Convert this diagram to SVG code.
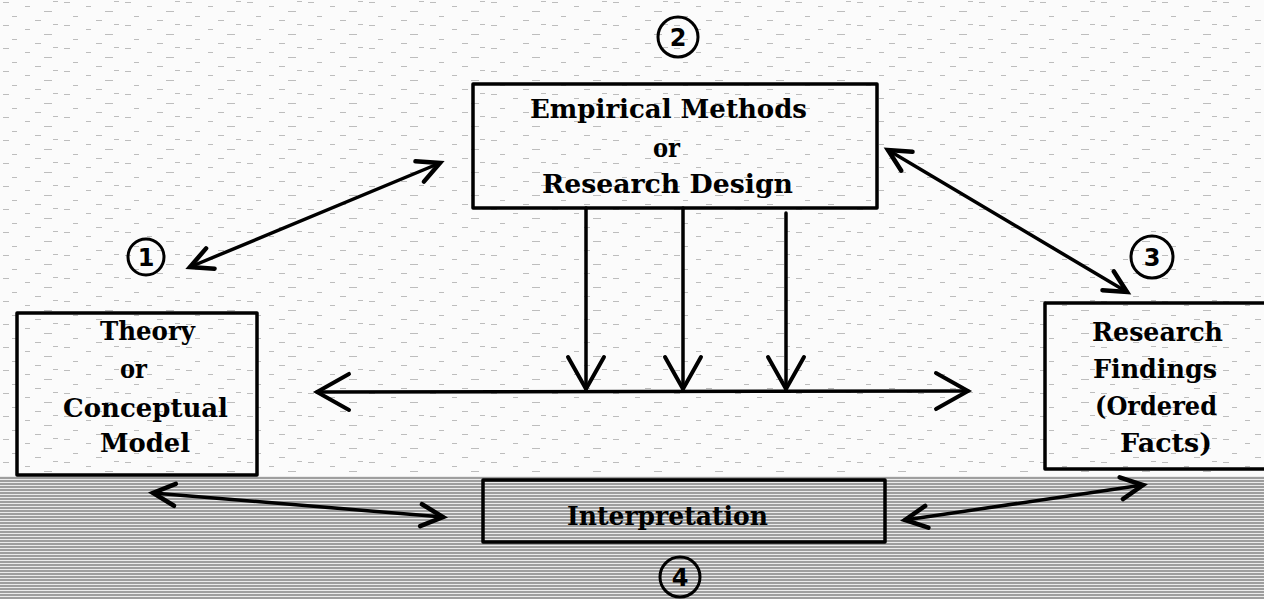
<svg xmlns="http://www.w3.org/2000/svg" width="1264" height="599" viewBox="0 0 1264 599">
  <defs>
    <style>
      .box { fill: none; stroke: #000; stroke-width: 3.5; stroke-linejoin: round; }
      .lbl { font-family: "DejaVu Serif", "Liberation Serif", serif; font-weight: bold; font-size: 26px; fill: #000; }
      .num { font-family: "DejaVu Sans", "Liberation Sans", sans-serif; font-weight: bold; font-size: 24px; fill: #000; text-anchor: middle; }
      .ring { fill: none; stroke: #000; stroke-width: 3; }
      .con { fill: none; stroke: #000; stroke-width: 3.5; stroke-linecap: round; }
    </style>
    <pattern id="speck" width="61" height="23" patternUnits="userSpaceOnUse">
      <g stroke="#bdbdbd" stroke-width="1">
        <line x1="3" y1="2.5" x2="9" y2="2.5"/>
        <line x1="25" y1="6.5" x2="30" y2="6.5"/>
        <line x1="44" y1="11.5" x2="52" y2="11.5"/>
        <line x1="12" y1="16.5" x2="17" y2="16.5"/>
        <line x1="35" y1="20.5" x2="41" y2="20.5"/>
        <line x1="53" y1="1.5" x2="58" y2="1.5"/>
      </g>
    </pattern>
    <pattern id="band" width="8" height="3" patternUnits="userSpaceOnUse">
      <rect width="8" height="2" fill="#9e9e9e"/>
    </pattern>
    <marker id="bigV" markerUnits="userSpaceOnUse" viewBox="-40 -22 44 44" markerWidth="44" markerHeight="44" refX="0" refY="0" orient="auto-start-reverse" overflow="visible">
      <path d="M -32 -18 L 0 0 L -32 18" fill="none" stroke="#000" stroke-width="4" stroke-linecap="round" stroke-linejoin="miter"/>
    </marker>
    <marker id="smallV" markerUnits="userSpaceOnUse" viewBox="-30 -15 34 30" markerWidth="34" markerHeight="30" refX="0" refY="0" orient="auto-start-reverse" overflow="visible">
      <path d="M -22 -11 L 0 0 L -22 11" fill="none" stroke="#000" stroke-width="4.5" stroke-linecap="round" stroke-linejoin="miter"/>
    </marker>
  </defs>

  <rect width="1264" height="599" fill="#fbfbfb"/>
  <rect width="1264" height="599" fill="url(#speck)"/>
  <rect y="476" width="1264" height="123" fill="#ebebeb"/>
  <rect y="476" width="1264" height="123" fill="url(#band)"/>

  <g id="connectors">
    <line class="con" x1="190" y1="267" x2="440" y2="163" marker-start="url(#smallV)" marker-end="url(#smallV)"/>
    <line class="con" x1="888" y1="150" x2="1127" y2="292" marker-start="url(#smallV)" marker-end="url(#smallV)"/>
    <line class="con" x1="317" y1="392" x2="968" y2="391" marker-start="url(#bigV)" marker-end="url(#bigV)"/>
    <line class="con" x1="586" y1="208" x2="586" y2="389" marker-end="url(#bigV)"/>
    <line class="con" x1="683" y1="208" x2="683" y2="389" marker-end="url(#bigV)"/>
    <line class="con" x1="786" y1="213" x2="786" y2="389" marker-end="url(#bigV)"/>
    <line class="con" x1="153" y1="493" x2="443" y2="517" marker-start="url(#smallV)" marker-end="url(#smallV)"/>
    <line class="con" x1="905" y1="520" x2="1143" y2="485" marker-start="url(#smallV)" marker-end="url(#smallV)"/>
  </g>

  <g id="n1">
    <circle class="ring" cx="146" cy="257" r="18"/>
    <text class="num" x="146" y="266">1</text>
    <rect class="box" x="17" y="313" width="240" height="162"/>
    <text class="lbl" x="100" y="340" textLength="95" lengthAdjust="spacingAndGlyphs">Theory</text>
    <text class="lbl" x="120" y="378" textLength="27" lengthAdjust="spacingAndGlyphs">or</text>
    <text class="lbl" x="63" y="417" textLength="165" lengthAdjust="spacingAndGlyphs">Conceptual</text>
    <text class="lbl" x="100" y="452" textLength="90" lengthAdjust="spacingAndGlyphs">Model</text>
  </g>

  <g id="n2">
    <circle class="ring" cx="678" cy="37" r="20"/>
    <text class="num" x="678" y="46">2</text>
    <rect class="box" x="473" y="84" width="404" height="124"/>
    <text class="lbl" x="530" y="118" textLength="277" lengthAdjust="spacingAndGlyphs">Empirical Methods</text>
    <text class="lbl" x="653" y="157" textLength="27" lengthAdjust="spacingAndGlyphs">or</text>
    <text class="lbl" x="542" y="193" textLength="251" lengthAdjust="spacingAndGlyphs">Research Design</text>
  </g>

  <g id="n3">
    <circle class="ring" cx="1152" cy="257" r="21"/>
    <text class="num" x="1152" y="266">3</text>
    <rect class="box" x="1045" y="303" width="225" height="166"/>
    <text class="lbl" x="1092" y="341" textLength="131" lengthAdjust="spacingAndGlyphs">Research</text>
    <text class="lbl" x="1093" y="378" textLength="124" lengthAdjust="spacingAndGlyphs">Findings</text>
    <text class="lbl" x="1095" y="415" textLength="122" lengthAdjust="spacingAndGlyphs">(Ordered</text>
    <text class="lbl" x="1120" y="452" textLength="92" lengthAdjust="spacingAndGlyphs">Facts)</text>
  </g>

  <g id="n4">
    <rect class="box" x="483" y="480" width="402" height="62"/>
    <text class="lbl" x="567" y="525" textLength="201" lengthAdjust="spacingAndGlyphs">Interpretation</text>
    <circle class="ring" cx="680" cy="577" r="20"/>
    <text class="num" x="680" y="586">4</text>
  </g>
</svg>
